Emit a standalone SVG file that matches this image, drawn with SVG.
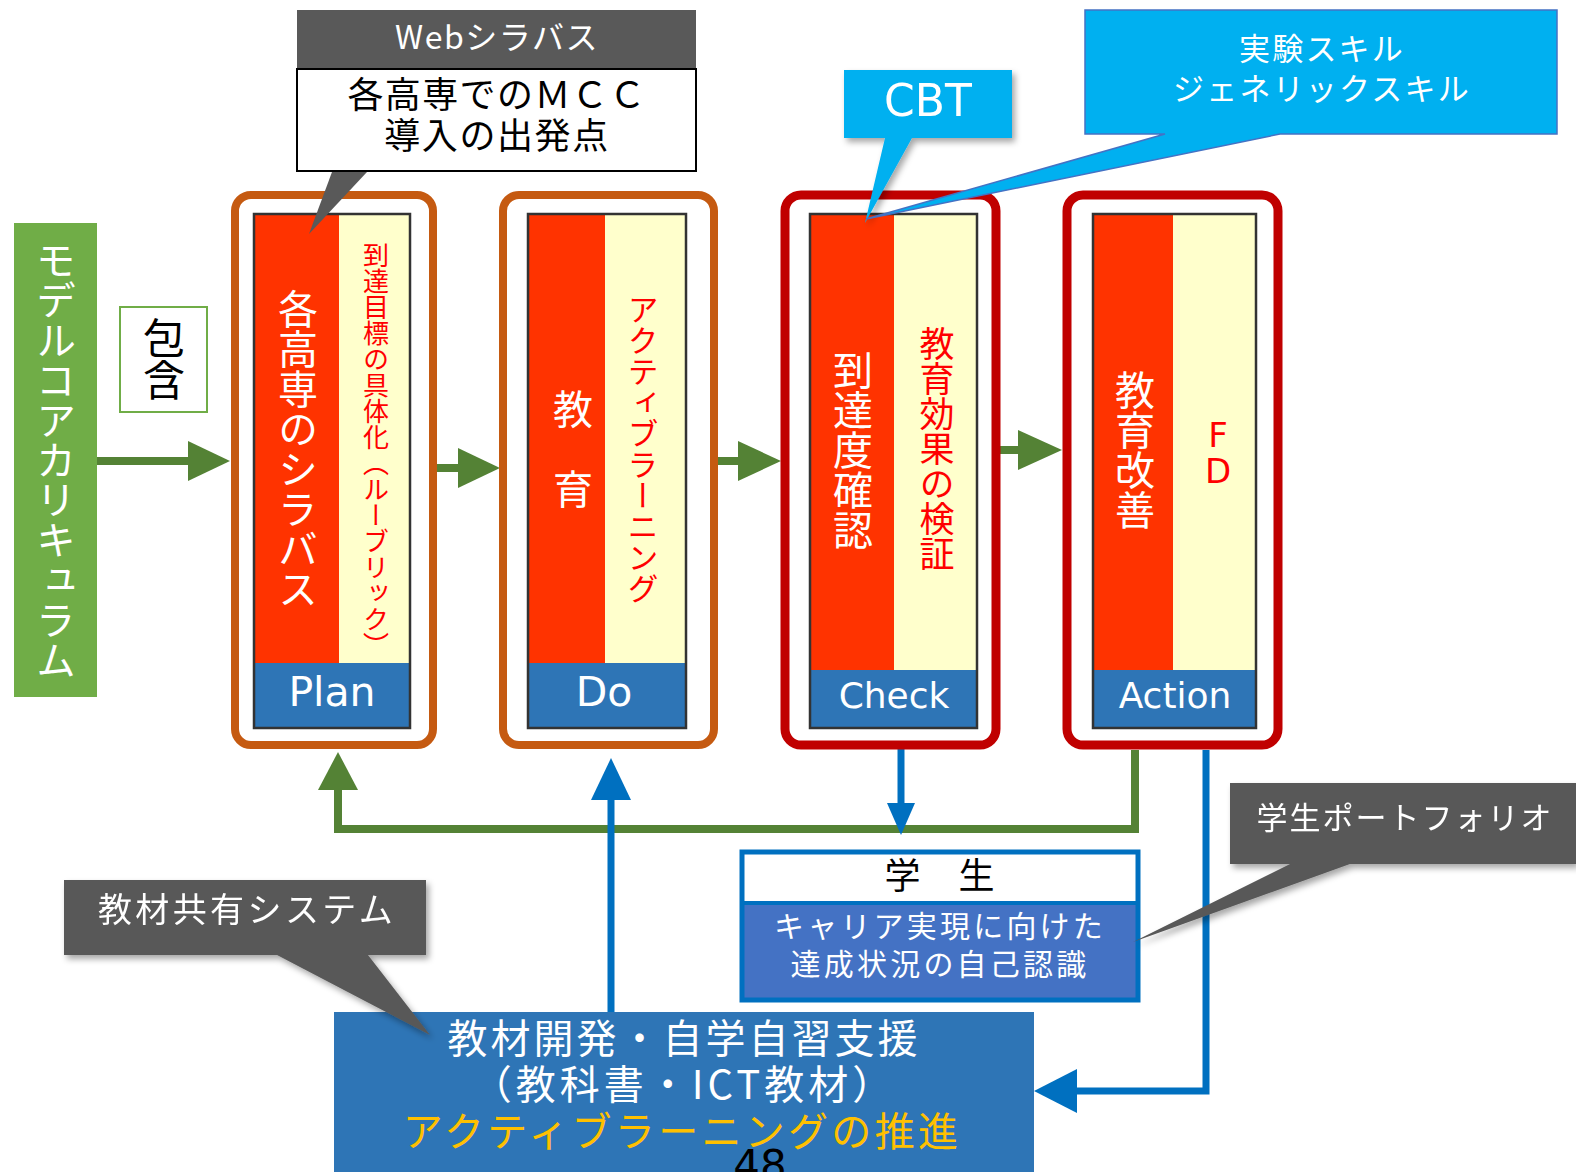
<svg xmlns="http://www.w3.org/2000/svg" width="1576" height="1172" viewBox="0 0 1576 1172">
<defs>
<style>
.jp{font-family:"Noto Sans CJK JP","Noto Sans",sans-serif;}
.lat{font-family:"DejaVu Sans","Noto Sans CJK JP",sans-serif;}
.v{writing-mode:vertical-rl;text-anchor:middle;}
.w{fill:#FFFFFF;}
.r{fill:#FF0000;}
.k{fill:#000000;}
.c{text-anchor:middle;}
.outerO{fill:#FFFFFF;stroke:#C55A11;stroke-width:8;}
.outerR{fill:#FFFFFF;stroke:#C00000;stroke-width:9;}
.red{fill:#FF3300;}
.yel{fill:#FFFFCC;}
.bar{fill:#2E75B6;}
.frame{fill:none;stroke:#333333;stroke-width:2.5;}
.dark{fill:#595959;}
.cyan{fill:#00B0F0;}
.ga{fill:none;stroke:#548235;stroke-width:8;}
.ba{fill:none;stroke:#0070C0;stroke-width:7;}
</style>
<filter id="sh" x="-10%" y="-10%" width="130%" height="140%">
<feDropShadow dx="3" dy="4" stdDeviation="3" flood-color="#000" flood-opacity="0.35"/>
</filter>
</defs>
<rect width="1576" height="1172" fill="#FFFFFF"/>

<g id="connectors">
<line class="ga" x1="97" y1="461" x2="192" y2="461"/>
<polygon points="188,441 230,461 188,481" fill="#548235"/>
<line class="ga" x1="437" y1="468" x2="462" y2="468"/>
<polygon points="458,448 500,468 458,488" fill="#548235"/>
<line class="ga" x1="718" y1="461" x2="742" y2="461"/>
<polygon points="738,441 781,461 738,481" fill="#548235"/>
<line class="ga" x1="1000" y1="450" x2="1022" y2="450"/>
<polygon points="1018,430 1062,450 1018,470" fill="#548235"/>
<polyline class="ga" points="1135,750 1135,829 338,829 338,785"/>
<polygon points="318,790 338,752 358,790" fill="#548235"/>
<line class="ba" x1="901" y1="740" x2="901" y2="808"/>
<polygon points="887,803 901,835 915,803" fill="#0070C0"/>
<line class="ba" x1="611" y1="1013" x2="611" y2="795"/>
<polygon points="591,800 611,758 631,800" fill="#0070C0"/>
<polyline class="ba" points="1206,750 1206,1091 1072,1091"/>
<polygon points="1077,1069 1034,1091 1077,1113" fill="#0070C0"/>
</g>

<g id="model-core">
<rect x="14" y="223" width="83" height="474" fill="#70AD47"/>
<text class="jp v w" x="56" y="460" font-size="40">モデルコアカリキュラム</text>
</g>

<g id="hougan">
<rect x="120" y="307" width="87" height="105" fill="#FFFFFF" stroke="#70AD47" stroke-width="2"/>
<text class="jp v k" x="164" y="359" font-size="42">包含</text>
</g>

<g id="plan">
<rect class="outerO" x="235" y="195" width="198" height="550" rx="16"/>
<rect class="red" x="254" y="214" width="85" height="449"/>
<rect class="yel" x="339" y="214" width="71" height="449"/>
<rect class="bar" x="254" y="663" width="156" height="65"/>
<rect class="frame" x="254" y="214" width="156" height="514"/>
<text class="jp v w" x="298" y="449" font-size="40">各高専のシラバス</text>
<text class="jp v r" x="376" y="450" font-size="26">到達目標の具体化（ルーブリック）</text>
<text class="lat c w" x="332" y="706" font-size="41">Plan</text>
</g>

<g id="do">
<rect class="outerO" x="503" y="195" width="211" height="550" rx="16"/>
<rect class="red" x="528" y="214" width="77" height="449"/>
<rect class="yel" x="605" y="214" width="81" height="449"/>
<rect class="bar" x="528" y="663" width="158" height="65"/>
<rect class="frame" x="528" y="214" width="158" height="514"/>
<text class="jp c w" x="573" y="424" font-size="40">教</text>
<text class="jp c w" x="573" y="504" font-size="40">育</text>
<text class="jp v r" x="643" y="449" font-size="31">アクティブラーニング</text>
<text class="lat c w" x="604" y="706" font-size="41">Do</text>
</g>

<g id="check">
<rect class="outerR" x="785" y="195" width="211" height="550" rx="16"/>
<rect class="red" x="810" y="214" width="84" height="456"/>
<rect class="yel" x="894" y="214" width="83" height="456"/>
<rect class="bar" x="810" y="670" width="167" height="58"/>
<rect class="frame" x="810" y="214" width="167" height="514"/>
<text class="jp v w" x="853" y="450" font-size="40">到達度確認</text>
<text class="jp v r" x="937" y="449" font-size="35">教育効果の検証</text>
<text class="lat c w" x="894" y="708" font-size="36">Check</text>
</g>

<g id="action">
<rect class="outerR" x="1067" y="195" width="211" height="550" rx="16"/>
<rect class="red" x="1093" y="214" width="80" height="456"/>
<rect class="yel" x="1173" y="214" width="83" height="456"/>
<rect class="bar" x="1093" y="670" width="163" height="58"/>
<rect class="frame" x="1093" y="214" width="163" height="514"/>
<text class="jp v w" x="1135" y="450" font-size="40">教育改善</text>
<text class="lat c r" x="1218" y="447" font-size="34">F</text>
<text class="lat c r" x="1218" y="483" font-size="34">D</text>
<text class="lat c w" x="1175" y="708" font-size="36">Action</text>
</g>

<g id="web-syllabus">
<rect class="dark" x="297" y="10" width="399" height="59"/>
<text class="jp c w" x="497" y="49" font-size="32" letter-spacing="1.5">Webシラバス</text>
<rect x="297" y="69" width="399" height="102" fill="#FFFFFF" stroke="#000000" stroke-width="2"/>
<polygon class="dark" points="332,172 367,172 309,234"/>
<text class="jp c k" x="497" y="108" font-size="36" letter-spacing="1.4">各高専でのＭＣＣ</text>
<text class="jp c k" x="497" y="149" font-size="36" letter-spacing="1.6">導入の出発点</text>
</g>

<g id="cbt" filter="url(#sh)">
<path class="cyan" d="M844,70 H1012 V138 H912 L865,223 L885,138 H844 Z"/>
<text class="lat c w" x="928" y="116" font-size="44">CBT</text>
</g>

<g id="skills">
<path class="cyan" stroke="#4472C4" stroke-width="1.5" d="M1085,10 H1557 V134 H1280 L866,219 L1165,134 H1085 Z"/>
<text class="jp c w" x="1322" y="60" font-size="31" letter-spacing="2.2">実験スキル</text>
<text class="jp c w" x="1322" y="100" font-size="31" letter-spacing="2.2">ジェネリックスキル</text>
</g>

<g id="student">
<rect x="742" y="852" width="396" height="51" fill="#FFFFFF"/>
<rect x="742" y="903" width="396" height="97" fill="#4472C4"/>
<rect x="742" y="852" width="396" height="148" fill="none" stroke="#0070C0" stroke-width="5"/>
<line x1="742" y1="903" x2="1138" y2="903" stroke="#0070C0" stroke-width="4"/>
<text class="jp c k" x="940" y="889" font-size="36" letter-spacing="1">学　生</text>
<text class="jp c w" x="940" y="937" font-size="30" letter-spacing="3.2">キャリア実現に向けた</text>
<text class="jp c w" x="940" y="975" font-size="30" letter-spacing="3.2">達成状況の自己認識</text>
</g>

<g id="portfolio" filter="url(#sh)">
<path class="dark" d="M1230,783 H1576 V864 H1350 L1133,942 L1290,864 H1230 Z"/>
<text class="jp c w" x="1405" y="829" font-size="31" letter-spacing="2">学生ポートフォリオ</text>
</g>

<g id="materials">
<rect x="335" y="1013" width="698" height="170" fill="#2E75B6" stroke="#2E75B6" stroke-width="2"/>
<text class="jp c w" x="684" y="1053" font-size="40" letter-spacing="3">教材開発・自学自習支援</text>
<text class="jp c w" x="684" y="1099" font-size="40" letter-spacing="4">（教科書・ICT教材）</text>
<text class="jp c" x="682" y="1146" font-size="40" letter-spacing="3.3" fill="#FFC000">アクティブラーニングの推進</text>
<text class="lat c k" x="760" y="1180" font-size="42">48</text>
</g>

<g id="materials-share" filter="url(#sh)">
<path class="dark" d="M64,880 H426 V955 H368 L430,1035 L277,955 H64 Z"/>
<text class="jp c w" x="247" y="922" font-size="34" letter-spacing="3.4">教材共有システム</text>
</g>
</svg>
